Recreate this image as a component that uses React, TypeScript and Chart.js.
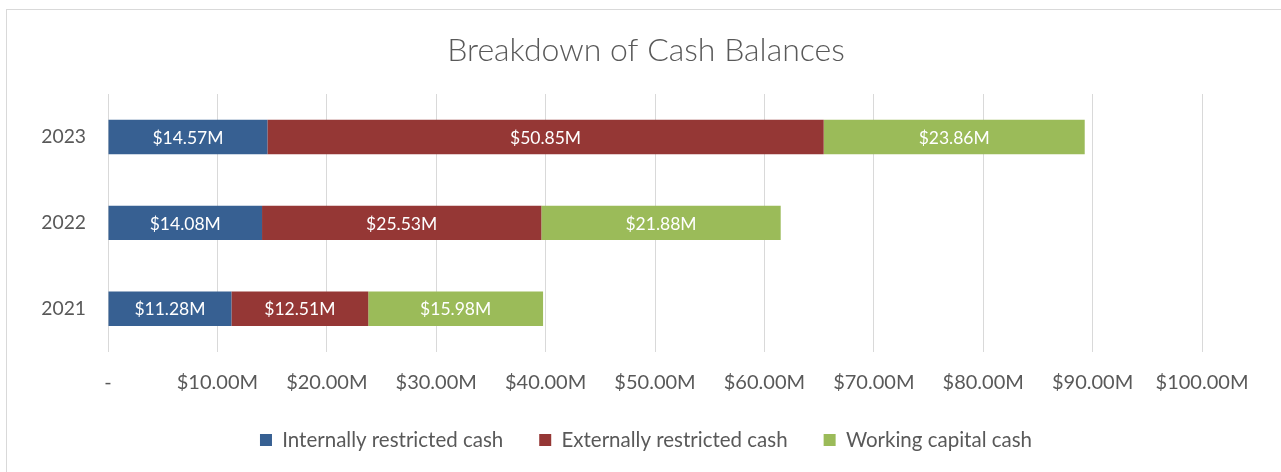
import React, { useEffect, useRef } from "react";
import { Chart, registerables } from "chart.js";

Chart.register(...registerables);

const categories = ["2023", "2022", "2021"];
const seriesNames = ["Internally restricted cash", "Externally restricted cash", "Working capital cash"];
const internallyRestricted = [14.57, 14.08, 11.28];
const externallyRestricted = [50.85, 25.53, 12.51];
const workingCapital = [23.86, 21.88, 15.98];
const seriesColors = ["#376092", "#953735", "#9BBB59"];
const xMin = 0;
const xMax = 100;
const xStep = 10;
const titleText = "Breakdown of Cash Balances";

const FONT = "Lato, 'Open Sans', sans-serif";
const TEXT = "#595959";

const fmtMoney = (v: number) => `$${v.toFixed(2)}M`;

const segmentLabels = {
  id: "segmentLabels",
  afterDatasetsDraw(chart: any) {
    const ctx = chart.ctx;
    ctx.save();
    ctx.font = `17.5px ${FONT}`;
    ctx.fillStyle = "#ffffff";
    ctx.textAlign = "center";
    ctx.textBaseline = "middle";
    chart.data.datasets.forEach((ds: any, di: number) => {
      const meta = chart.getDatasetMeta(di);
      meta.data.forEach((bar: any, i: number) => {
        const p = bar.getProps(["x", "y", "base"], true);
        ctx.fillText(fmtMoney(ds.data[i]), (p.x + p.base) / 2, p.y + 1);
      });
    });
    ctx.restore();
  },
};

export default function App() {
  const ref = useRef<HTMLCanvasElement | null>(null);

  useEffect(() => {
    if (!ref.current) return;
    const values = [internallyRestricted, externallyRestricted, workingCapital];
    const chart = new Chart(ref.current, {
      type: "bar",
      data: {
        labels: categories,
        datasets: seriesNames.map((name, i) => ({
          label: name,
          data: values[i],
          backgroundColor: seriesColors[i],
          borderWidth: 0,
          barPercentage: 0.4,
          categoryPercentage: 1,
        })),
      },
      options: {
        indexAxis: "y",
        responsive: false,
        animation: false,
        devicePixelRatio: 1,
        layout: { padding: { left: 11, right: 0, top: 0, bottom: 11.75 } },
        plugins: {
          title: {
            display: true,
            text: titleText,
            color: TEXT,
            font: { family: FONT, size: 32, weight: "300", lineHeight: 1.2 },
            padding: { top: 31, bottom: 24.6 },
          },
          legend: {
            position: "bottom",
            labels: {
              boxWidth: 12,
              boxHeight: 12,
              padding: 36,
              color: TEXT,
              font: { family: FONT, size: 20.5 },
            },
          },
          tooltip: { enabled: false },
        },
        scales: {
          x: {
            stacked: true,
            min: xMin,
            max: xMax,
            afterFit: (s: any) => {
              s.height = 42;
            },
            ticks: {
              stepSize: xStep,
              padding: 21,
              color: TEXT,
              font: { family: FONT, size: 20, lineHeight: 1 },
              maxRotation: 0,
              autoSkip: false,
              callback: (v: any) => (Number(v) === 0 ? "-" : fmtMoney(Number(v))),
            },
            grid: { color: "#d9d9d9", lineWidth: 1, drawTicks: false },
            border: { display: false },
          },
          y: {
            stacked: true,
            afterFit: (s: any) => {
              s.width = 97;
            },
            ticks: {
              padding: 22,
              color: TEXT,
              font: { family: FONT, size: 19.3 },
            },
            grid: { display: false, drawTicks: false },
            border: { display: false },
          },
          yRight: {
            type: "linear",
            position: "right",
            display: true,
            afterFit: (s: any) => {
              s.width = 79;
            },
            ticks: { display: false },
            grid: { display: false, drawTicks: false },
            border: { display: false },
          },
        },
      },
      plugins: [segmentLabels],
    });
    return () => chart.destroy();
  }, []);

  return (
    <div
      style={{
        position: "fixed",
        left: 0,
        top: 0,
        width: 1281,
        height: 472,
        overflow: "hidden",
        background: "#ffffff",
      }}
    >
      <div
        style={{
          position: "absolute",
          left: 6,
          top: 9,
          width: 1300,
          height: 500,
          border: "1.5px solid #d9d9d9",
          boxSizing: "border-box",
        }}
      />
      <canvas
        ref={ref}
        width={1281}
        height={472}
        style={{ position: "absolute", left: 0, top: 0, width: 1281, height: 472 }}
      />
    </div>
  );
}
